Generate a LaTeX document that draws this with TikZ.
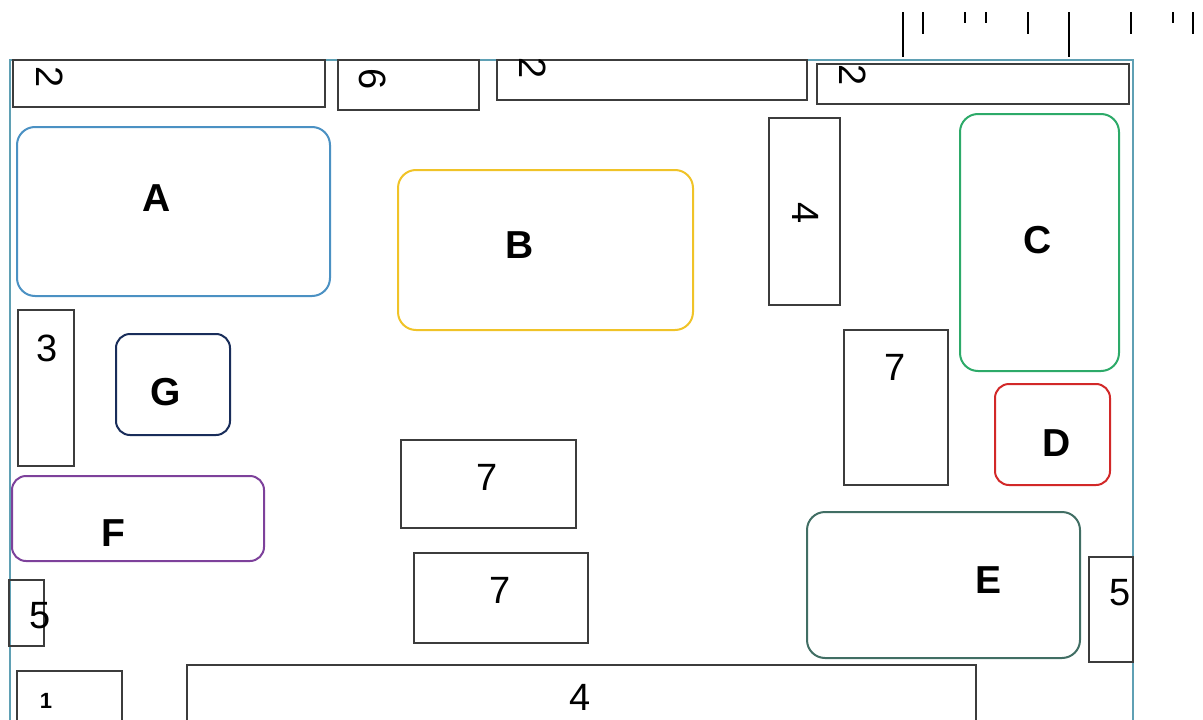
\documentclass[tikz,border=0pt]{standalone}
\usepackage{fontspec}
\setmainfont{Liberation Sans}
\definecolor{frame}{RGB}{95,160,180}
\definecolor{cA}{RGB}{75,145,195}
\definecolor{cB}{RGB}{240,195,40}
\definecolor{cC}{RGB}{45,170,105}
\definecolor{cD}{RGB}{210,40,40}
\definecolor{cE}{RGB}{65,110,100}
\definecolor{cF}{RGB}{125,65,155}
\definecolor{cG}{RGB}{25,45,90}
\definecolor{boxline}{RGB}{60,60,60}
\tikzset{
  plain/.style={draw=boxline, line width=1.3pt, inner sep=0pt, outer sep=0pt, anchor=north west},
  zone/.style={line width=2pt, rounded corners=18pt, inner sep=0pt, outer sep=0pt, anchor=north west},
  num/.style={font=\fontsize{38}{38}\selectfont, inner sep=0pt},
  letter/.style={font=\fontsize{39}{39}\selectfont\bfseries, inner sep=0pt},
  tick/.style={line width=2.6pt},
}
\begin{document}
\begin{tikzpicture}[x=1pt,y=-1pt]
\useasboundingbox (0,0) rectangle (1203,720);
% outer frame
\draw[frame, line width=2pt] (10,60) rectangle (1133,740);
% ruler ticks
\draw[tick] (903,12) -- (903,57);
\draw[tick] (923,12) -- (923,34);
\draw[tick] (965,12) -- (965,23);
\draw[tick] (986,12) -- (986,23);
\draw[tick] (1028,12) -- (1028,34);
\draw[tick] (1069,12) -- (1069,57);
\draw[tick] (1131,12) -- (1131,34);
\draw[tick] (1173,12) -- (1173,23);
\draw[tick] (1193,12) -- (1193,34);
% plain boxes
\node[plain, minimum width=312pt, minimum height=47pt] (b2a) at (13,60) {};
\node[plain, minimum width=141pt, minimum height=50pt] (b6) at (338,60) {};
\node[plain, minimum width=310pt, minimum height=40pt] (b2b) at (497,60) {};
\node[plain, minimum width=312pt, minimum height=40pt] (b2c) at (817,64) {};
\node[plain, minimum width=71pt, minimum height=187pt] (b4v) at (769,118) {};
\node[plain, minimum width=56pt, minimum height=156pt] (b3) at (18,310) {};
\node[plain, minimum width=104pt, minimum height=155pt] (b7a) at (844,330) {};
\node[plain, minimum width=175pt, minimum height=88pt] (b7b) at (401,440) {};
\node[plain, minimum width=174pt, minimum height=90pt] (b7c) at (414,553) {};
\node[plain, minimum width=44pt, minimum height=105pt] (b5r) at (1089,557) {};
\node[plain, minimum width=35pt, minimum height=66pt] (b5l) at (9,580) {};
\node[plain, minimum width=105pt, minimum height=60pt] (b1) at (17,671) {};
\node[plain, minimum width=789pt, minimum height=70pt] (b4h) at (187,665) {};
% coloured zones
\node[zone, draw=cA, minimum width=313pt, minimum height=169pt] (zA) at (17,127) {};
\node[zone, draw=cB, minimum width=295pt, minimum height=160pt] (zB) at (398,170) {};
\node[zone, draw=cC, minimum width=159pt, minimum height=257pt] (zC) at (960,114) {};
\node[zone, draw=cD, rounded corners=14pt, minimum width=115pt, minimum height=101pt] (zD) at (995,384) {};
\node[zone, draw=cE, minimum width=273pt, minimum height=146pt] (zE) at (807,512) {};
\node[zone, draw=cF, rounded corners=14pt, minimum width=252pt, minimum height=85pt] (zF) at (12,476) {};
\node[zone, draw=cG, rounded corners=14pt, minimum width=114pt, minimum height=101pt] (zG) at (116,334) {};
% labels
\node[num, rotate=-90] (t2a) at (50,77) {2};
\node[num, rotate=-90] (t6) at (373,79) {6};
\node[num, rotate=-90] (t2b) at (533,68) {2};
\node[num, rotate=-90] (t2c) at (853,75) {2};
\node[num, rotate=-90] (t4v) at (806,213) {4};
\node[num] (t3) at (47,348) {3};
\node[num] (t7a) at (895,367) {7};
\node[num] (t7b) at (487,477) {7};
\node[num] (t7c) at (500,590) {7};
\node[num] (t5r) at (1120,593) {5};
\node[num] (t5l) at (40,616) {5};
\node[font=\fontsize{22}{22}\selectfont\bfseries, inner sep=0pt] (t1) at (46,701) {1};
\node[num] (t4h) at (580,697) {4};
\node[letter] (lA) at (157,198) {A};
\node[letter] (lB) at (520,245) {B};
\node[letter] (lC) at (1038,240) {C};
\node[letter] (lD) at (1057,443) {D};
\node[letter] (lE) at (988,580) {E};
\node[letter] (lF) at (113,533) {F};
\node[letter] (lG) at (166,392) {G};
\end{tikzpicture}
\end{document}
